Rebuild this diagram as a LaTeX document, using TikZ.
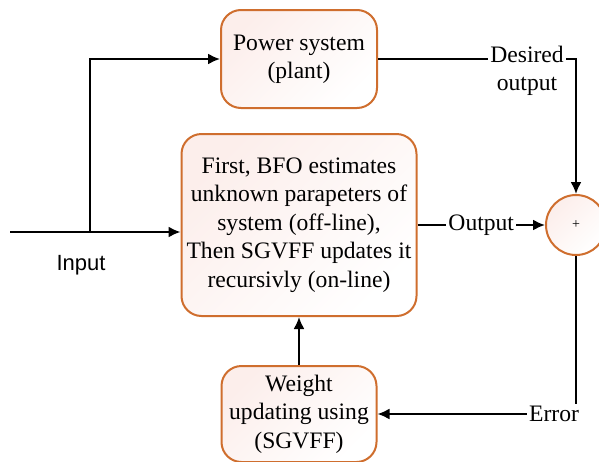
\documentclass[tikz,border=0pt]{standalone}
\usepackage{fontspec}
\setmainfont{Liberation Serif}
\setsansfont{Liberation Sans}
\usepackage{tikz}
\usetikzlibrary{arrows.meta}

\definecolor{BoxEdge}{RGB}{207,110,46}
\definecolor{BoxTint}{RGB}{252,238,235}

\begin{document}
\begin{tikzpicture}[x=0.5pt, y=-0.5pt]
    \tikzstyle{block}=[rectangle, rounded corners=10pt, draw=BoxEdge, line width=1pt,
            top color=BoxTint, bottom color=white, shading angle=45,
            align=center, inner sep=0pt, font=\fontsize{11.8}{14.2}\selectfont]
    \tikzstyle{junction}=[circle, draw=BoxEdge, line width=1pt,
            top color=BoxTint, bottom color=white, shading angle=45,
            minimum size=30pt, inner sep=0pt, font=\fontsize{7}{8}\selectfont]
    \tikzstyle{link}=[line width=1pt, -{Latex[length=6pt,width=5.5pt]}]
    \tikzstyle{tag}=[fill=white, inner sep=1pt, font=\fontsize{11.8}{14.2}\selectfont]

    \useasboundingbox (0,0) rectangle (599,461);

        \node[block, minimum width=78pt, minimum height=49pt] (plant) at (299,59)
            {Power system\\(plant)};
        \node[block, minimum width=117.5pt, minimum height=91pt] (est) at (299,225)
            {First, BFO estimates\\unknown parapeters of\\system (off-line),\\
             Then SGVFF updates it\\recursivly (on-line)};
        \node[block, minimum width=77.5pt, minimum height=48pt] (weight) at (299,414)
            {Weight\\updating using\\(SGVFF)};
        \node[junction] (sum) at (576,225) {+};

        \coordinate (src) at (10,232);
        \coordinate (tap) at (90,232);
        \node[font=\sffamily\fontsize{11}{13}\selectfont] (inlabel) at (81,265) {Input};

        \draw[link] (src) -- (src -| est.west);
        \draw[link] (tap) |- (plant);
        \draw[link] (plant) -| (sum);
        \draw[link] (est) -- node[tag, midway] {Output} (sum);
        \draw[link] (sum) |- node[tag, pos=0.5, anchor=east, xshift=3pt] {Error} (weight);
        \draw[link] (weight) -- (est);

        \node[tag, align=center] (want) at (527,71) {Desired\\output};
\end{tikzpicture}
\end{document}
